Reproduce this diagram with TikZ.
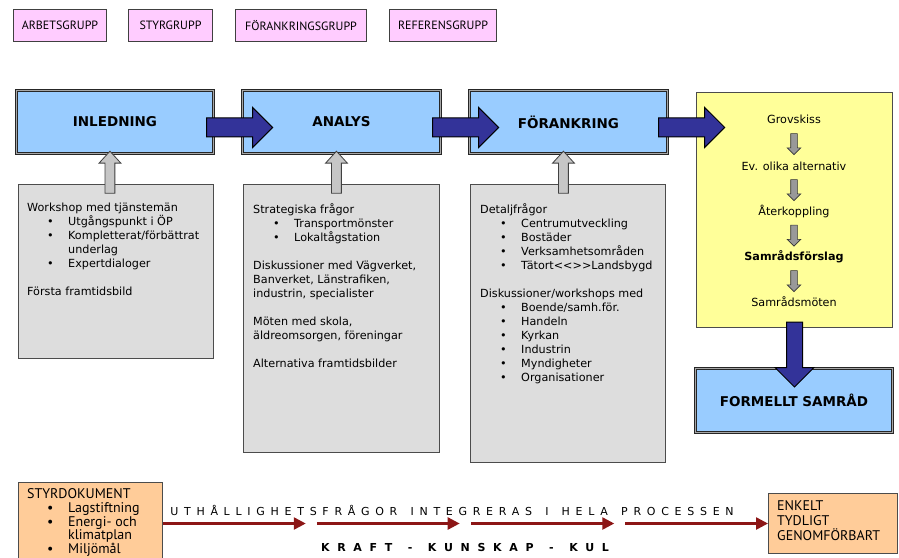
\documentclass[tikz,border=0pt]{standalone}
\usepackage{fontspec}
\setmainfont{DejaVu Sans}
\newfontfamily\tah{PT Sans}
\usetikzlibrary{shapes,arrows,arrows.meta,calc,positioning}

\definecolor{pinkgrp}{RGB}{255,204,255}
\definecolor{bluebox}{RGB}{153,204,255}
\definecolor{graybox}{RGB}{221,221,221}
\definecolor{yellbox}{RGB}{255,255,153}
\definecolor{orangebox}{RGB}{255,204,153}
\definecolor{navy}{RGB}{51,51,153}
\definecolor{darkred}{RGB}{140,22,22}

\newcommand{\bul}{\hspace*{20pt}\makebox[21pt][l]{\textbullet}}
\newcommand{\cont}{\hspace*{41pt}}
\newcommand{\wgap}{\hspace{4pt}}

\begin{document}
\begin{tikzpicture}[x=1pt,y=-1pt]
\tikzstyle{grp}=[draw=black!75, line width=1pt, fill=pinkgrp, anchor=north west, inner sep=0pt, minimum height=32, font=\tah\fontsize{12}{14}\selectfont]
\tikzstyle{phase}=[draw=black!85, line width=0.9pt, double=gray!70, double distance=1.1pt, fill=bluebox, anchor=north west, inner sep=0pt, minimum width=197, minimum height=63, font=\fontsize{13.5}{16}\selectfont\bfseries]
\tikzstyle{info}=[draw=black!70, line width=1.2pt, fill=graybox, anchor=north west, inner sep=0pt]
\tikzstyle{body}=[anchor=north west, inner sep=0pt, align=left, font=\fontsize{11.2}{14}\selectfont]
\tikzstyle{tbody}=[anchor=north west, inner sep=0pt, align=left, font=\tah\fontsize{14}{13.7}\selectfont]
\tikzstyle{ytxt}=[inner sep=0pt, font=\fontsize{11.2}{14}\selectfont]
\tikzstyle{bluearrow}=[single arrow, draw=black, fill=navy, line width=1pt, inner sep=0pt, inner ysep=9pt, single arrow head extend=10.5pt, single arrow tip angle=90, minimum height=66]
\tikzstyle{grayup}=[single arrow, draw=black!75, fill=gray!45, line width=0.8pt, inner sep=0pt, inner ysep=4.5pt, single arrow head extend=6pt, single arrow tip angle=85, minimum height=42, rotate=90]
\tikzstyle{graydown}=[single arrow, draw=black!80, fill=gray!80, line width=0.6pt, inner sep=0pt, inner ysep=3pt, single arrow head extend=3.5pt, single arrow tip angle=90, minimum height=21, rotate=-90]
\tikzstyle{redarrow}=[darkred, line width=2.5pt, -{Triangle[length=12pt,width=12pt]}]

\useasboundingbox (0,0) rectangle (899,557);

% groups
\node[grp, minimum width=93] (arb) at (13,9) {ARBETSGRUPP};
\node[grp, minimum width=84] (sty) at (128,9) {STYRGRUPP};
\node[grp, minimum width=131] (forg) at (235,9) {FÖRANKRINGSGRUPP};
\node[grp, minimum width=107] (ref) at (389,9) {REFERENSGRUPP};

% phases
\node[phase] (inl) at (16,90) {INLEDNING};
\node[phase, minimum width=198] (ana) at (242,90) {ANALYS};
\node[phase, minimum width=198] (fork) at (469,90) {FÖRANKRING};
\node[draw=black!70, line width=1pt, fill=yellbox, anchor=north west, minimum width=196, minimum height=235] (yel) at (696,92) {};
\node[phase, minimum height=64] (form) at (695,368) {FORMELLT SAMRÅD};

% info boxes
\node[info, minimum width=195, minimum height=174] (i1) at (18,184) {};
\node[info, minimum width=196, minimum height=268] (i2) at (243,184) {};
\node[info, minimum width=195, minimum height=278] (i3) at (470,184) {};

\node[body] (t1) at ([shift={(9,19)}]i1.north west) {Workshop med tjänstemän\\
\bul Utgångspunkt i ÖP\\
\bul Kompletterat/förbättrat\\
\cont underlag\\
\bul Expertdialoger\\[14pt]
Första framtidsbild};

\node[body] (t2) at ([shift={(10,19)}]i2.north west) {Strategiska frågor\\
\bul Transportmönster\\
\bul Lokaltågstation\\[14pt]
Diskussioner med Vägverket,\\
Banverket, Länstrafiken,\\
industrin, specialister\\[14pt]
Möten med skola,\\
äldreomsorgen, föreningar\\[14pt]
Alternativa framtidsbilder};

\node[body] (t3) at ([shift={(10,19)}]i3.north west) {Detaljfrågor\\
\bul Centrumutveckling\\
\bul Bostäder\\
\bul Verksamhetsområden\\
\bul Tätort<{}<{}>{}>Landsbygd\\[14pt]
Diskussioner/workshops med\\
\bul Boende/samh.för.\\
\bul Handeln\\
\bul Kyrkan\\
\bul Industrin\\
\bul Myndigheter\\
\bul Organisationer};

% yellow steps
\node[ytxt] (gro) at (794,119) {Grovskiss};
\node[ytxt] (ev) at (794,166) {Ev. olika alternativ};
\node[ytxt] (ater) at (794,211) {Återkoppling};
\node[ytxt] (forsl) at (794,257) {\bfseries Samrådsförslag};
\node[ytxt] (mot) at (794,302) {Samrådsmöten};

\node[graydown] (d1) at ($(gro)!0.5!(ev)$) {};
\node[graydown] (d2) at ($(ev)!0.5!(ater)$) {};
\node[graydown] (d3) at ($(ater)!0.5!(forsl)$) {};
\node[graydown] (d4) at ($(forsl)!0.5!(mot)$) {};

% arrows between phases
\node[grayup] (u1) at ($(inl.south)+(-5,21)$) {};
\node[grayup] (u2) at ($(ana.south)+(-5,21)$) {};
\node[grayup] (u3) at ($(fork.south)+(-5,21)$) {};

\node[bluearrow] (a1) at ($(inl.east)+(21,5.5)$) {};
\node[bluearrow] (a2) at ($(ana.east)+(20,5.5)$) {};
\node[bluearrow] (a3) at ($(fork.east)+(19,5.5)$) {};
\node[bluearrow, inner ysep=7.5pt, single arrow head extend=11.5pt, minimum height=65, rotate=-90] (a4) at ($(yel.south)+(0,22.5)$) {};

% bottom row
\node[draw=black!70, line width=1pt, fill=orangebox, anchor=north west, minimum width=144, minimum height=90] (styr) at (18,482) {};
\node[tbody] (st) at ([shift={(9,6.5)}]styr.north west) {STYRDOKUMENT\\
\bul Lagstiftning\\
\bul Energi- och\\
\cont klimatplan\\
\bul Miljömål};
\node[draw=black!70, line width=1pt, fill=orangebox, anchor=north west, minimum width=129, minimum height=60] (enk) at (768,493) {};
\node[tbody, font=\tah\fontsize{14}{15}\selectfont] (et) at ([shift={(9,7)}]enk.north west) {ENKELT\\TYDLIGT\\GENOMFÖRBART};

\coordinate (rs) at (styr.east |- enk.west);
\coordinate (re) at (enk.west);
\foreach \a/\b in {0/0.236,0.2545/0.4904,0.5099/0.7459,0.764/1}
  \draw[redarrow] ($(rs)!\a!(re)$) -- ($(rs)!\b!(re)$);

\node[inner sep=0pt, font=\fontsize{11}{13}\selectfont\addfontfeatures{LetterSpace=52}] (uth) at (452,510) {UTHÅLLIGHETSFRÅGOR\wgap{} INTEGRERAS\wgap{} I\wgap{} HELA\wgap{} PROCESSEN};
\node[inner sep=0pt, font=\fontsize{11}{13}\selectfont\bfseries\addfontfeatures{LetterSpace=70}] (kraft) at (465,547) {KRAFT\wgap{} -\wgap{} KUNSKAP\wgap{} -\wgap{} KUL};

\end{tikzpicture}
\end{document}
